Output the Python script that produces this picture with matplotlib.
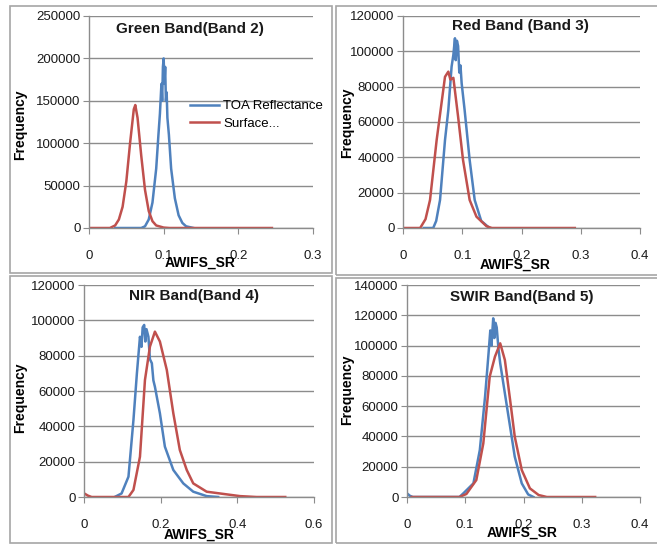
import numpy as np
import matplotlib.pyplot as plt
from matplotlib.patches import Rectangle

BLUE = '#4F81BD'
RED = '#C0504D'
GRID = '#8C8C8C'

# Green band (band 2)
g_toa_x = [0.035, 0.070, 0.075, 0.080, 0.085, 0.090, 0.093, 0.095, 0.097, 0.098, 0.099, 0.100, 0.101,
           0.102, 0.103, 0.104, 0.105, 0.107, 0.110, 0.115, 0.120, 0.125, 0.130, 0.140]
g_toa_y = [0, 0, 2000, 10000, 30000, 70000, 110000, 135000, 170000, 150000, 190000, 200000, 170000,
           190000, 150000, 160000, 130000, 110000, 70000, 35000, 15000, 6000, 2000, 0]
g_sr_x = [0.0, 0.028, 0.035, 0.040, 0.045, 0.050, 0.055, 0.060, 0.062, 0.065, 0.070, 0.075, 0.080,
          0.085, 0.090, 0.100, 0.108, 0.245]
g_sr_y = [0, 0, 3000, 10000, 25000, 55000, 100000, 140000, 145000, 130000, 85000, 45000, 20000,
          8000, 3000, 500, 0, 0]

# Red band (band 3)
r_toa_x = [0.035, 0.051, 0.056, 0.0625, 0.0709, 0.0765, 0.082, 0.085, 0.0877, 0.089, 0.091, 0.093,
           0.095, 0.097, 0.099, 0.104, 0.1125, 0.121, 0.132, 0.146]
r_toa_y = [0, 0, 4000, 15850, 49800, 66800, 91300, 98000, 107400, 95000, 106000, 103000,
           88000, 92000, 81900, 66800, 38500, 15850, 4000, 0]
r_sr_x = [0.0, 0.029, 0.038, 0.0456, 0.0568, 0.0709, 0.0765, 0.080, 0.085, 0.093, 0.1013, 0.1125,
          0.124, 0.141, 0.150, 0.29]
r_sr_y = [0, 0, 5000, 15850, 49800, 85600, 88500, 84000, 85000, 63000, 38500, 15850,
          6400, 1000, 0, 0]

# NIR band (band 4)
n_toa_x = [0.08, 0.098, 0.116, 0.129, 0.138, 0.146, 0.150, 0.153, 0.157, 0.160, 0.163, 0.168,
           0.172, 0.177, 0.181, 0.185, 0.198, 0.211, 0.233, 0.259, 0.285, 0.32, 0.35]
n_toa_y = [0, 2000, 11500, 43600, 70000, 90700, 85000, 96000, 97400, 88000, 95000, 90700,
           78000, 75700, 66000, 62400, 47400, 28500, 15300, 7700, 3000, 500, 0]
n_sr_x = [0.0, 0.01, 0.02, 0.116, 0.129, 0.146, 0.159, 0.172, 0.185, 0.198, 0.216, 0.233, 0.250,
          0.268, 0.285, 0.32, 0.372, 0.407, 0.45, 0.525]
n_sr_y = [2100, 800, 0, 0, 4000, 22800, 66200, 85100, 93600, 88000, 71900, 47400, 26600,
          15300, 7700, 3000, 1500, 500, 0, 0]

# SWIR band (band 5)
s_toa_x = [0.0, 0.005, 0.01, 0.09, 0.0967, 0.114, 0.125, 0.134, 0.140, 0.143, 0.145, 0.148,
           0.150, 0.152, 0.154, 0.157, 0.160, 0.168, 0.177, 0.185, 0.197, 0.208, 0.217]
s_toa_y = [2400, 800, 0, 0, 2400, 9000, 31000, 66200, 94900, 110000, 100000, 118000,
           105000, 115000, 112000, 98000, 88300, 68500, 46400, 26600, 9000, 1700, 0]
s_sr_x = [0.008, 0.09, 0.102, 0.119, 0.131, 0.142, 0.151, 0.160, 0.168, 0.177, 0.185, 0.197,
          0.211, 0.226, 0.24, 0.323]
s_sr_y = [0, 0, 2000, 11200, 35400, 79500, 92700, 101500, 90500, 64100, 39800, 17800,
          5700, 1300, 0, 0]

W, H = 657, 545
fig = plt.figure(figsize=(W / 100, H / 100), dpi=100)
plt.rcParams['font.family'] = ['Liberation Sans', 'DejaVu Sans']

# panel frames (pixels: x0, y0, x1, y1)
for x0, y0, x1, y1 in [(10, 6, 332, 273), (336, 6, 662, 275), (10, 276, 332, 543), (336, 278, 662, 543)]:
    fig.patches.append(Rectangle((x0 / W, 1 - y1 / H), (x1 - x0) / W, (y1 - y0) / H,
                                 transform=fig.transFigure, fill=False, ec='#A6A6A6', lw=1.2))

panels = [
    # box px, xlim, xstep, ylim, ystep, title, title px, data, ylabel px, xlabel px
    ((89, 16, 313, 228), 0.3, 0.1, 250000, 50000, 'Green Band(Band 2)', (190, 29),
     (g_toa_x, g_toa_y, g_sr_x, g_sr_y), (20, 125), (200, 263)),
    ((403, 16, 640, 228), 0.4, 0.1, 120000, 20000, 'Red Band (Band 3)', (520, 26),
     (r_toa_x, r_toa_y, r_sr_x, r_sr_y), (347, 123), (515, 265)),
    ((84, 285, 314, 497), 0.6, 0.2, 120000, 20000, 'NIR Band(Band 4)', (194, 296),
     (n_toa_x, n_toa_y, n_sr_x, n_sr_y), (20, 398), (199, 535)),
    ((407, 285, 640, 497), 0.4, 0.1, 140000, 20000, 'SWIR Band(Band 5)', (522, 297),
     (s_toa_x, s_toa_y, s_sr_x, s_sr_y), (347, 390), (522, 533)),
]

for i, (box, xmax, xstep, ymax, ystep, title, tpos, data, ylpos, xlpos) in enumerate(panels):
    x0, y0, x1, y1 = box
    ax = fig.add_axes([x0 / W, 1 - y1 / H, (x1 - x0) / W, (y1 - y0) / H])
    tx, ty, sx, sy = data
    ax.plot(tx, ty, color=BLUE, lw=1.8, label='TOA Reflectance')
    ax.plot(sx, sy, color=RED, lw=1.8, label='Surface...')
    ax.set_xlim(0, xmax)
    ax.set_ylim(0, ymax)
    ax.set_xticks(np.round(np.arange(0, xmax + 1e-9, xstep), 2))
    ax.set_yticks(np.arange(0, ymax + 1, ystep))
    ax.set_xticklabels([f'{v:g}' for v in ax.get_xticks()])
    ax.set_yticklabels([f'{int(v)}' for v in ax.get_yticks()])
    ax.yaxis.grid(True, color=GRID, lw=1.0)
    ax.set_axisbelow(True)
    for s in ['top', 'right']:
        ax.spines[s].set_visible(False)
    for s in ['left', 'bottom']:
        ax.spines[s].set_color(GRID)
        ax.spines[s].set_linewidth(1.0)
    ax.tick_params(axis='both', colors=GRID, labelcolor='#1a1a1a', labelsize=9.5, length=4)
    ax.tick_params(axis='x', pad=12)
    ax.tick_params(axis='y', pad=2)
    fig.text(tpos[0] / W, 1 - tpos[1] / H, title, ha='center', va='center',
             fontsize=11, fontweight='bold', color='#1a1a1a')
    fig.text(ylpos[0] / W, 1 - ylpos[1] / H, 'Frequency', rotation=90, ha='center', va='center',
             fontsize=10, fontweight='bold')
    fig.text(xlpos[0] / W, 1 - xlpos[1] / H, 'AWIFS_SR', ha='center', va='center',
             fontsize=10, fontweight='bold')
    if i == 0:
        ax.legend(loc='upper left', bbox_to_anchor=((190 - x0) / (x1 - x0), (y1 - 100) / (y1 - y0)),
                  frameon=False, fontsize=9.5, handlelength=2.2, handletextpad=0.3,
                  labelspacing=0.4, borderaxespad=0, borderpad=0)

fig.savefig('out.png', dpi=100)
